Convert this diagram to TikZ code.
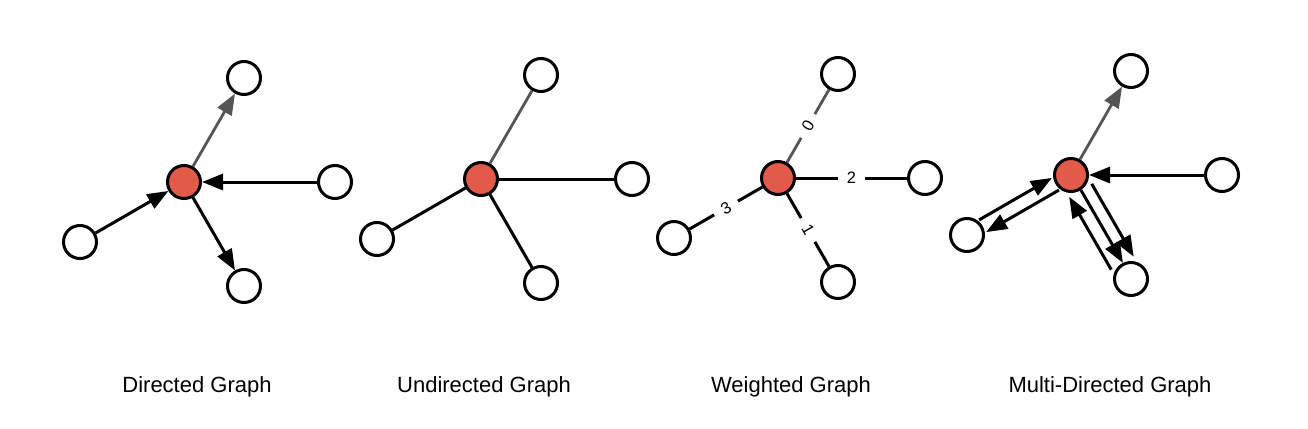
\documentclass[tikz,border=0pt]{standalone}
\usepackage{fontspec}
\setmainfont{Liberation Sans}
\usetikzlibrary{arrows.meta,calc}
\definecolor{nodered}{RGB}{226,90,72}
\definecolor{edgegray}{RGB}{85,85,85}
\begin{document}
\begin{tikzpicture}[x=1pt,y=-1pt,
 vtx/.style={circle,draw=black,line width=3pt,fill=white,minimum size=33pt,inner sep=0pt},
 hub/.style={vtx,fill=nodered},
 edge/.style={line width=3pt,draw=black},
 grayedge/.style={line width=2.8pt,draw=edgegray},
 tip/.style={-{Triangle[length=21pt,width=16pt]}},
 wlabel/.style={fill=white,inner xsep=9pt,inner ysep=1pt,font=\fontsize{16.5}{16.5}\selectfont,sloped},
 caption/.style={anchor=base,font=\fontsize{22}{26}\selectfont}]
\fill[white] (0,0) rectangle (1308,428);
\useasboundingbox (0,0) rectangle (1308,428);

% ---------- Directed graph
\node[hub] (c1) at (184,182) {};
\node[vtx] (t1) at (244,78) {};
\node[vtx] (r1) at (335,182) {};
\node[vtx] (l1) at (80,242) {};
\node[vtx] (b1) at (244,286) {};
\draw[grayedge,tip] (c1) -- (t1);
\draw[edge,tip] (r1) -- (c1);
\draw[edge,tip] (l1) -- (c1);
\draw[edge,tip] (c1) -- (b1);
\node[caption] (cap1) at (197,392) {Directed Graph};

% ---------- Undirected graph
\node[hub] (c2) at (481,179) {};
\node[vtx] (t2) at (541,75) {};
\node[vtx] (r2) at (632,179) {};
\node[vtx] (l2) at (377,239) {};
\node[vtx] (b2) at (541,283) {};
\draw[grayedge] (c2) -- (t2);
\draw[edge] (c2) -- (r2);
\draw[edge] (c2) -- (l2);
\draw[edge] (c2) -- (b2);
\node[caption] (cap2) at (484,392) {Undirected Graph};

% ---------- Weighted graph
\node[hub] (c3) at (778,178) {};
\node[vtx] (t3) at (838,74) {};
\node[vtx] (r3) at (925,178) {};
\node[vtx] (l3) at (674,238) {};
\node[vtx] (b3) at (838,282) {};
\draw[grayedge] (c3) -- node[wlabel] (w0) {0} (t3);
\draw[edge] (c3) -- node[wlabel] (w2) {2} (r3);
\draw[edge] (l3) -- node[wlabel] (w3) {3} (c3);
\draw[edge] (c3) -- node[wlabel] (w1) {1} (b3);
\node[caption] (cap3) at (791,392) {Weighted Graph};

% ---------- Multi-directed graph
\node[hub] (c4) at (1071,175) {};
\node[vtx] (t4) at (1131,71) {};
\node[vtx] (r4) at (1222,175) {};
\node[vtx] (l4) at (967,235) {};
\node[vtx] (b4) at (1131,279) {};
\draw[grayedge,tip] (c4) -- (t4);
\draw[edge,tip] (r4) -- (c4);
\draw[edge,tip,transform canvas={shift={(-3.5,-6.1)}}] (l4) -- (c4);
\draw[edge,tip,transform canvas={shift={(3.5,6.1)}}] (c4) -- (l4);
\draw[edge,tip,transform canvas={shift={(-10.8,6.2)}}] (b4) -- (c4);
\draw[edge,tip,transform canvas={shift={(0.9,-0.5)}}] (c4) -- (b4);
\draw[edge,tip,transform canvas={shift={(11.7,-6.7)}}] (c4) -- (b4);
\node[caption] (cap4) at (1110,392) {Multi-Directed Graph};
\end{tikzpicture}
\end{document}
